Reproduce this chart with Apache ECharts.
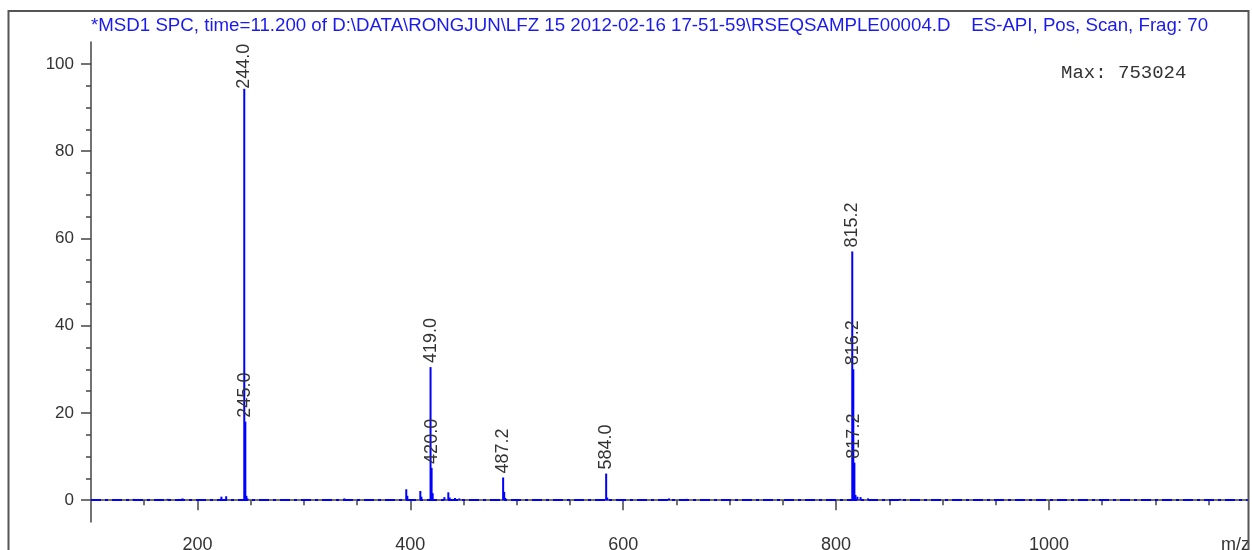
<!DOCTYPE html>
<html>
<head>
<meta charset="utf-8">
<script src="https://cdn.jsdelivr.net/npm/echarts@6/dist/echarts.min.js"></script>
<style>html,body{margin:0;padding:0;background:#fff;}#c{width:1252px;height:550px;}</style>
</head>
<body>
<div id="c"></div>
<script>
// ---- data ----
const titleText = "*MSD1 SPC, time=11.200 of D:\\DATA\\RONGJUN\\LFZ 15 2012-02-16 17-51-59\\RSEQSAMPLE00004.D    ES-API, Pos, Scan, Frag: 70";
const maxText = "Max: 753024";
const labeledMz = [244.0, 245.0, 419.0, 420.0, 487.2, 584.0, 815.2, 816.2, 817.2];
const labeledAbund = [100, 18.0, 30.5, 7.4, 5.2, 6.1, 57.0, 30.0, 8.6];
const minorMz = [140, 172, 186, 222.5, 227, 246, 247, 338, 396.2, 397.2, 409.4, 410.4, 421, 432, 435.7, 437, 442, 446, 488.2, 489.2, 585, 643, 660, 818.2, 820, 823, 830, 860];
const minorAbund = [0.3, 0.3, 0.4, 0.8, 0.9, 1.0, 0.4, 0.4, 2.5, 1.0, 2.1, 0.8, 1.6, 0.7, 1.8, 0.6, 0.5, 0.4, 1.9, 0.5, 0.6, 0.4, 0.3, 1.2, 0.8, 0.7, 0.4, 0.3];
const xMinorTicks = [150,200,250,300,350,400,450,500,550,600,650,700,750,800,850,900,950,1000,1050,1100,1150];
const xMajorTicks = [200, 400, 600, 800, 1000];
const yMinorTicks = [0,5,10,15,20,25,30,35,40,45,50,55,60,65,70,75,80,85,90,95,100];
const yMajorTicks = [0, 20, 40, 60, 80, 100];

const X_MIN = 100, X_MAX = 1187, Y_MIN = -5, Y_MAX = 105;
const BLUE = '#0000ff';
const AXIS = '#444';
const TXT = '#333';

const chart = echarts.init(document.getElementById('c'));

const labeledData = labeledMz.map((m, i) => {
  const item = { value: [m, labeledAbund[i]], label: { formatter: m.toFixed(1) } };
  if (i === 0) {
    item.label.offset = [-29, 0];
    item.label.backgroundColor = '#fff';
  }
  return item;
});
const minorData = minorMz.map((m, i) => [m, minorAbund[i]]);

const baseX = {
  type: 'value', min: X_MIN, max: X_MAX, position: 'bottom', splitLine: { show: false }
};
const baseY = {
  type: 'value', min: Y_MIN, max: Y_MAX, position: 'left', splitLine: { show: false }
};

chart.setOption({
  animation: false,
  backgroundColor: '#fff',
  title: {
    text: titleText, left: 86, top: 11,
    textStyle: { color: '#1a1aee', fontFamily: 'Liberation Sans', fontSize: 18.7, fontWeight: 'normal' }
  },
  grid: { left: 91, right: 4, top: 42, bottom: 28, containLabel: false, outerBoundsMode: 'none' },
  xAxis: [
    Object.assign({}, baseX, {
      axisLine: { show: true, lineStyle: { color: AXIS, width: 1.5 } },
      axisTick: { show: true, length: 5, customValues: xMinorTicks, lineStyle: { color: AXIS, width: 1.5 } },
      axisLabel: { show: false }
    }),
    Object.assign({}, baseX, {
      axisLine: { show: false },
      axisTick: { show: true, length: 10, customValues: xMajorTicks, lineStyle: { color: AXIS, width: 1.5 } },
      axisLabel: { show: true, customValues: xMajorTicks, margin: 14, color: TXT, fontFamily: 'Liberation Sans', fontSize: 18,
        formatter: v => String(v) }
    })
  ],
  yAxis: [
    Object.assign({}, baseY, {
      axisLine: { show: true, lineStyle: { color: AXIS, width: 1.5 } },
      axisTick: { show: true, length: 5, customValues: yMinorTicks, lineStyle: { color: AXIS, width: 1.5 } },
      axisLabel: { show: false }
    }),
    Object.assign({}, baseY, {
      axisLine: { show: false },
      axisTick: { show: true, length: 10, customValues: yMajorTicks, lineStyle: { color: AXIS, width: 1.5 } },
      axisLabel: { show: true, customValues: yMajorTicks, margin: 17, color: TXT, fontFamily: 'Liberation Sans', fontSize: 17 }
    })
  ],
  series: [
    {
      type: 'bar', name: 'minor', xAxisIndex: 0, yAxisIndex: 0,
      data: minorData, barWidth: 2, barGap: '-100%',
      itemStyle: { color: BLUE }, silent: true,
      markLine: {
        silent: true, symbol: 'none', label: { show: false },
        lineStyle: { color: BLUE, width: 2, type: [10, 4, 3, 4] },
        data: [{ yAxis: 0 }]
      }
    },
    {
      type: 'bar', name: 'peaks', xAxisIndex: 0, yAxisIndex: 0,
      data: labeledData, barWidth: 2, barGap: '-100%',
      itemStyle: { color: BLUE }, silent: true,
      label: {
        show: true, position: 'top', rotate: 90, align: 'left', verticalAlign: 'middle',
        distance: 4, color: TXT, fontFamily: 'Liberation Sans', fontSize: 18
      }
    }
  ],
  graphic: [
    { type: 'text', left: 1061, top: 63, style: { text: maxText, fill: TXT, font: '19px "Liberation Mono"' } },
    { type: 'text', left: 1221, top: 536, style: { text: 'm/z', fill: TXT, font: '18px "Liberation Sans"' } },
    { type: 'rect', shape: { x: 8.5, y: 11, width: 1240, height: 560 }, style: { fill: 'none', stroke: '#555', lineWidth: 2 }, z: 100 }
  ]
});
</script>
</body>
</html>
